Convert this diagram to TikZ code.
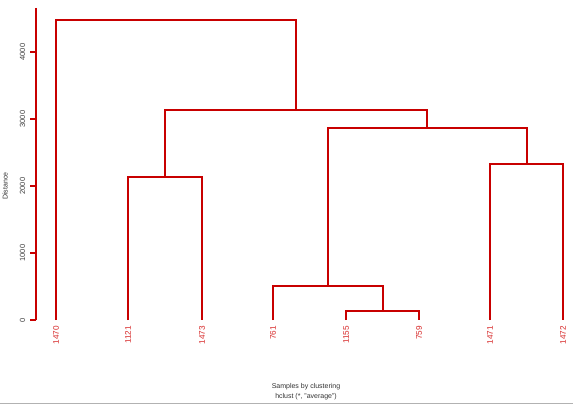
\documentclass[tikz,border=0pt]{standalone}
\usepackage{fontspec}
\setmainfont{Liberation Sans}
\begin{document}
\begin{tikzpicture}[x=1pt,y=-1pt,
  link/.style={draw=dred,line width=2pt},
  leaflab/.style={rotate=90,anchor=east,inner sep=0pt,text=lred,font=\fontsize{8.2}{9}\selectfont},
  ticklab/.style={rotate=90,anchor=south,inner sep=0pt,text=black!75,font=\fontsize{7.5}{9}\selectfont},
  caption/.style={text=black!80,font=\fontsize{7}{8}\selectfont,inner sep=0pt}]
\definecolor{dred}{RGB}{200,0,0}
\definecolor{lred}{RGB}{215,40,40}
\useasboundingbox (0,0) rectangle (573,404);
\fill[white] (0,0) rectangle (573,404);
\draw[black!30,line width=1pt] (0,403.5) -- (573,403.5);
% axis
\coordinate (ytop) at (36,8);
\coordinate (ybot) at (36,320);
\draw[link] (ytop) -- (ybot);
\foreach \v/\yy in {0/320,1000/253,2000/186,3000/119,4000/52}{
  \coordinate (t\v) at (36,\yy);
  \coordinate (tl\v) at (30,\yy);
  \draw[link] (t\v) -- (tl\v);
  \node[ticklab] (lab\v) at (25.5,\yy) {\v};
}
\node[rotate=90,caption] (ylab) at (5,186) {Distance};
% leaves
\foreach \n/\xx in {1470/56,1121/128,1473/202,761/273,1155/346,759/419,1471/490,1472/563}{
  \coordinate (L\n) at (\xx,320);
  \node[leaflab] (N\n) at (\xx,326) {\n};
}
% merges
\coordinate (m1l) at (346,311); \coordinate (m1r) at (419,311); \coordinate (m1) at (382.5,311);
\draw[link] (L1155) -- (m1l) -- (m1r) -- (L759);
\coordinate (m2l) at (273,286); \coordinate (m2r) at (382.5,286); \coordinate (m2) at (327.75,286);
\draw[link] (L761) -- (m2l) -- (m2r) -- (m1);
\coordinate (m3l) at (490,164); \coordinate (m3r) at (563,164); \coordinate (m3) at (526.5,164);
\draw[link] (L1471) -- (m3l) -- (m3r) -- (L1472);
\coordinate (m4l) at (327.75,128); \coordinate (m4r) at (526.5,128); \coordinate (m4) at (427,128);
\draw[link] (m2) -- (m4l) -- (m4r) -- (m3);
\coordinate (m5l) at (128,177); \coordinate (m5r) at (202,177); \coordinate (m5) at (165,177);
\draw[link] (L1121) -- (m5l) -- (m5r) -- (L1473);
\coordinate (m6l) at (165,110); \coordinate (m6r) at (427,110); \coordinate (m6) at (296,110);
\draw[link] (m5) -- (m6l) -- (m6r) -- (m4);
\coordinate (m7l) at (56,20); \coordinate (m7r) at (296,20);
\draw[link] (L1470) -- (m7l) -- (m7r) -- (m6);
% captions
\node[caption] (cap1) at (306,387) {Samples by clustering};
\node[caption] (cap2) at (306,397) {hclust (*, "average")};
\end{tikzpicture}
\end{document}
